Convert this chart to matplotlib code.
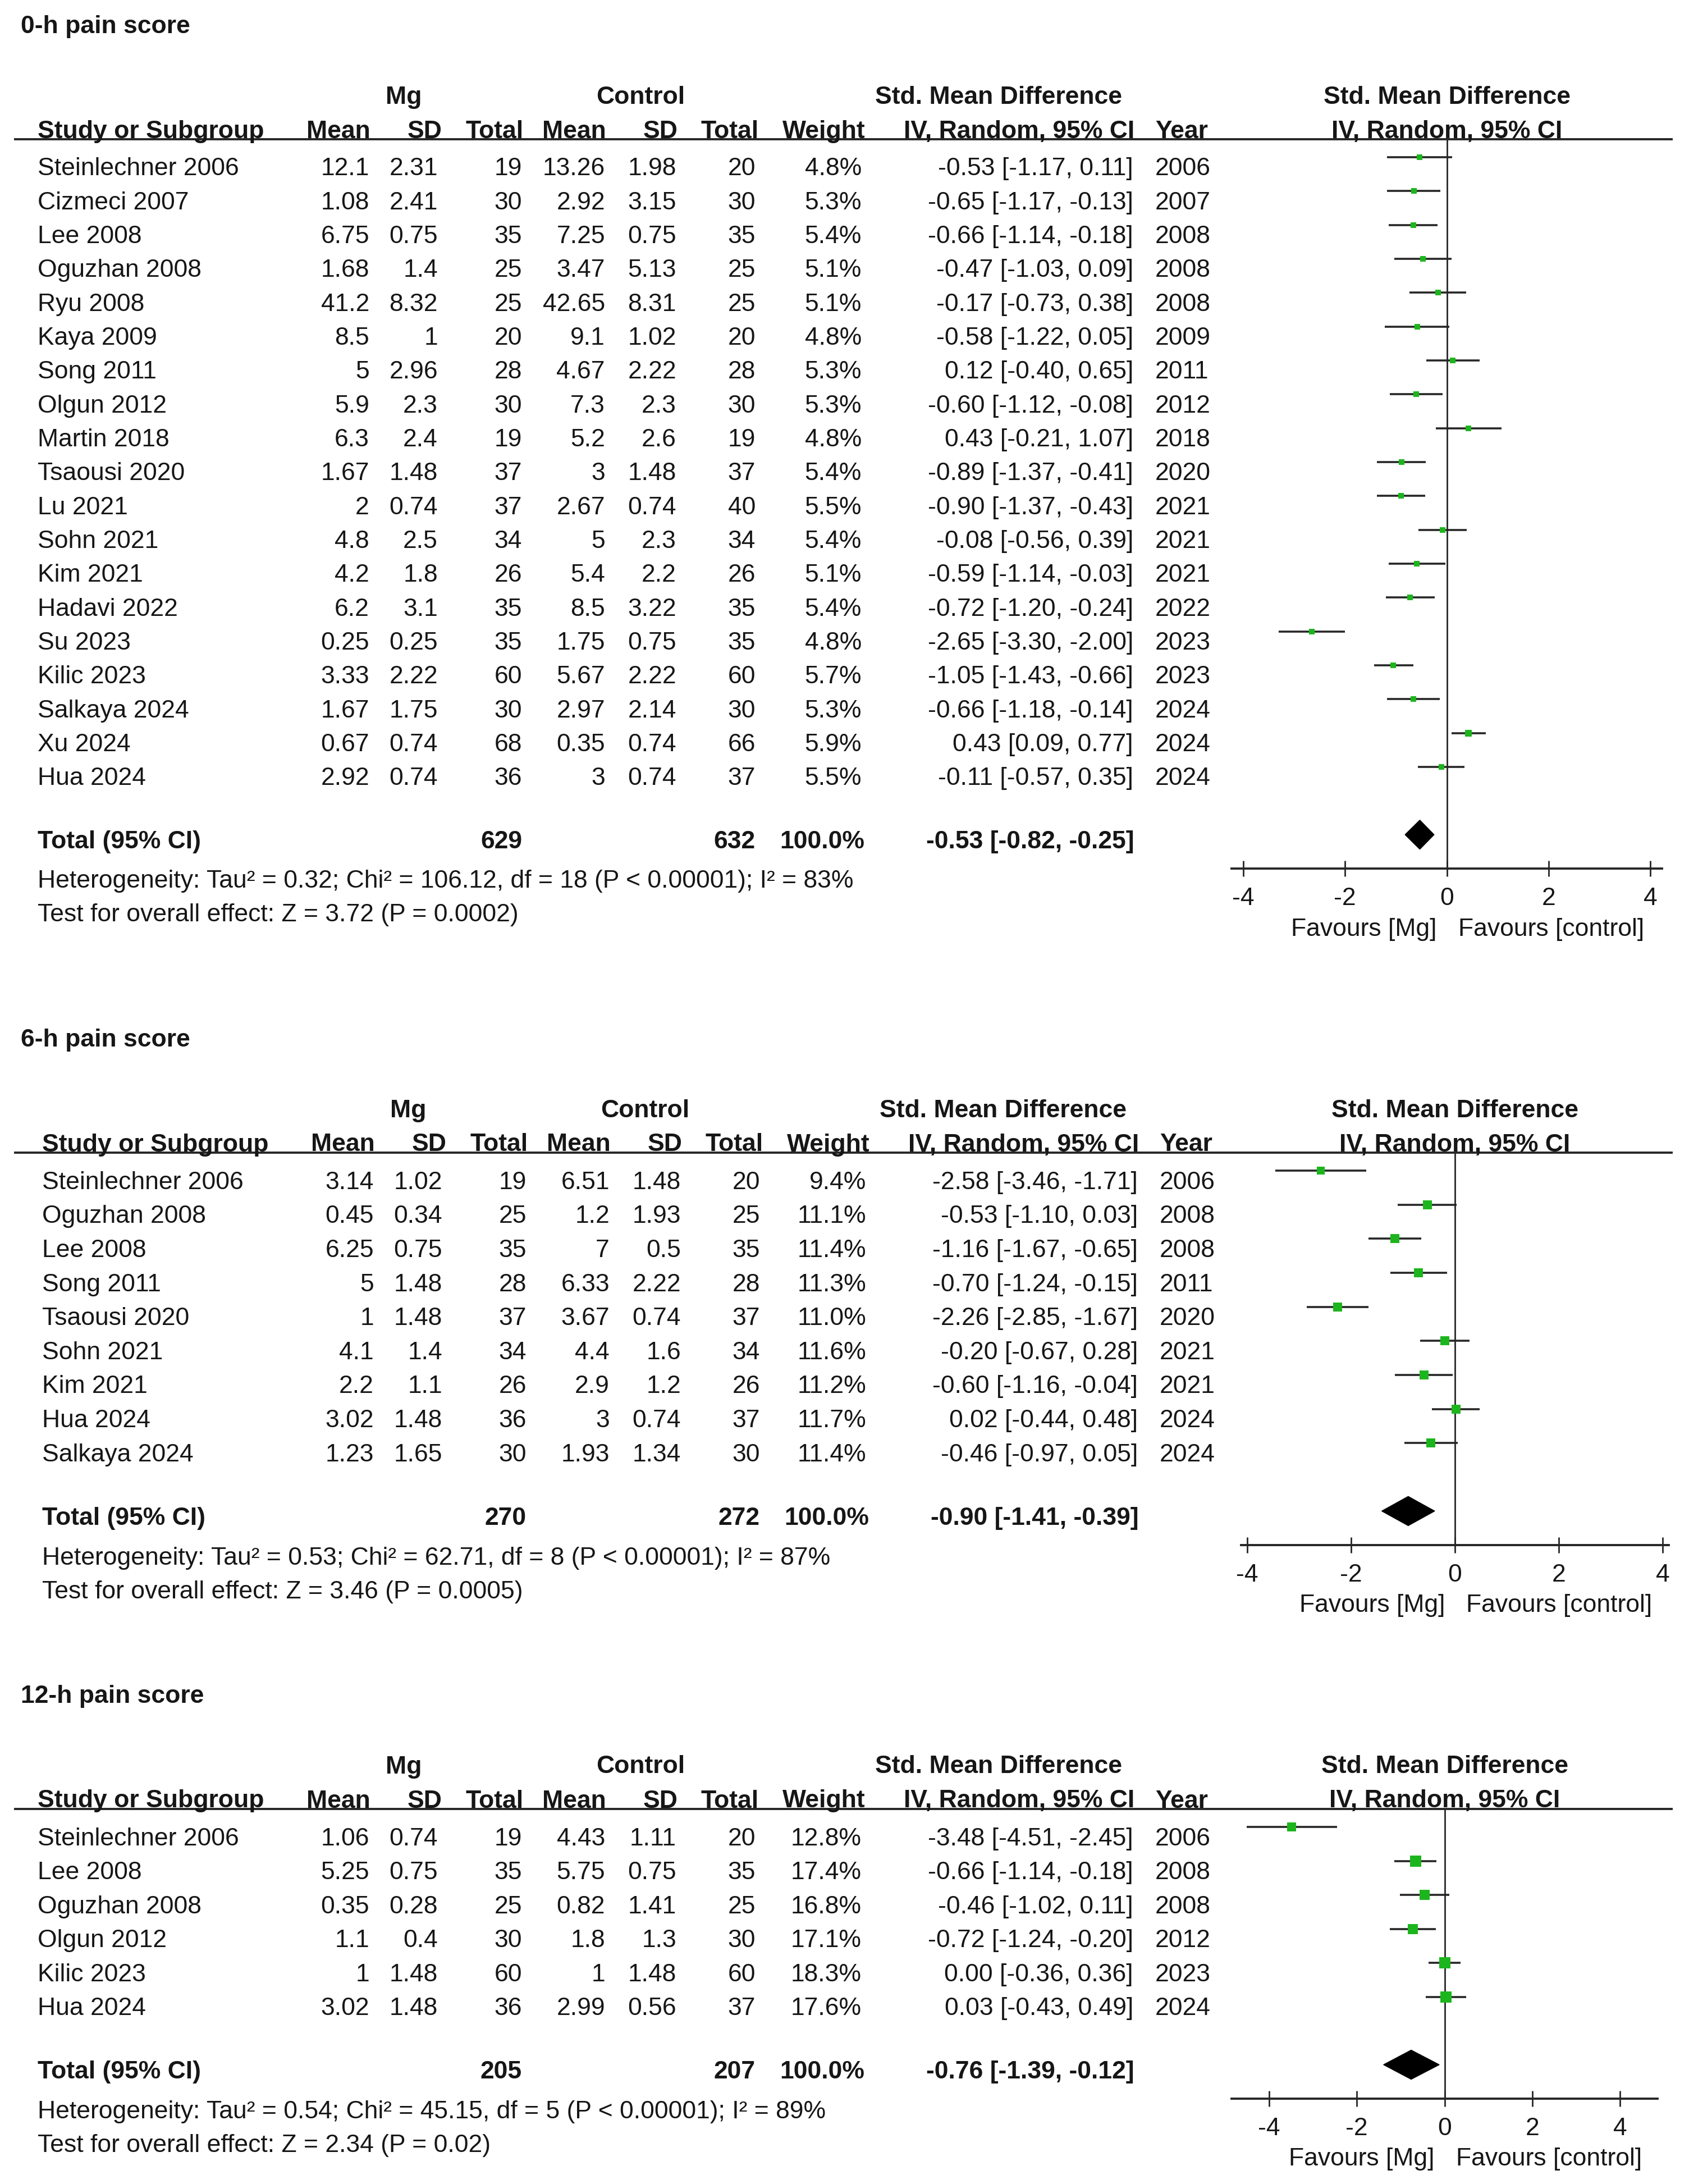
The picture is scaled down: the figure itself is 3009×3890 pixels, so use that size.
import numpy as np
import matplotlib
matplotlib.use("Agg")
import matplotlib.pyplot as plt
import matplotlib.transforms as mtransforms
from matplotlib.patches import Polygon

plt.rcParams['font.family'] = ['Liberation Sans', 'DejaVu Sans']
plt.rcParams['axes.unicode_minus'] = False

# ---------------- data: 0-h pain score ----------------
studies1 = ["Steinlechner 2006", "Cizmeci 2007", "Lee 2008", "Oguzhan 2008", "Ryu 2008",
            "Kaya 2009", "Song 2011", "Olgun 2012", "Martin 2018", "Tsaousi 2020",
            "Lu 2021", "Sohn 2021", "Kim 2021", "Hadavi 2022", "Su 2023", "Kilic 2023",
            "Salkaya 2024", "Xu 2024", "Hua 2024"]
mg_mean1 = ["12.1", "1.08", "6.75", "1.68", "41.2", "8.5", "5", "5.9", "6.3", "1.67", "2",
            "4.8", "4.2", "6.2", "0.25", "3.33", "1.67", "0.67", "2.92"]
mg_sd1 = ["2.31", "2.41", "0.75", "1.4", "8.32", "1", "2.96", "2.3", "2.4", "1.48", "0.74",
          "2.5", "1.8", "3.1", "0.25", "2.22", "1.75", "0.74", "0.74"]
mg_n1 = [19, 30, 35, 25, 25, 20, 28, 30, 19, 37, 37, 34, 26, 35, 35, 60, 30, 68, 36]
ct_mean1 = ["13.26", "2.92", "7.25", "3.47", "42.65", "9.1", "4.67", "7.3", "5.2", "3", "2.67",
            "5", "5.4", "8.5", "1.75", "5.67", "2.97", "0.35", "3"]
ct_sd1 = ["1.98", "3.15", "0.75", "5.13", "8.31", "1.02", "2.22", "2.3", "2.6", "1.48", "0.74",
          "2.3", "2.2", "3.22", "0.75", "2.22", "2.14", "0.74", "0.74"]
ct_n1 = [20, 30, 35, 25, 25, 20, 28, 30, 19, 37, 40, 34, 26, 35, 35, 60, 30, 66, 37]
weight1 = [4.8, 5.3, 5.4, 5.1, 5.1, 4.8, 5.3, 5.3, 4.8, 5.4, 5.5, 5.4, 5.1, 5.4, 4.8, 5.7, 5.3, 5.9, 5.5]
smd1 = [-0.53, -0.65, -0.66, -0.47, -0.17, -0.58, 0.12, -0.60, 0.43, -0.89, -0.90, -0.08,
        -0.59, -0.72, -2.65, -1.05, -0.66, 0.43, -0.11]
lo1 = [-1.17, -1.17, -1.14, -1.03, -0.73, -1.22, -0.40, -1.12, -0.21, -1.37, -1.37, -0.56,
       -1.14, -1.20, -3.30, -1.43, -1.18, 0.09, -0.57]
hi1 = [0.11, -0.13, -0.18, 0.09, 0.38, 0.05, 0.65, -0.08, 1.07, -0.41, -0.43, 0.39,
       -0.03, -0.24, -2.00, -0.66, -0.14, 0.77, 0.35]
year1 = [2006, 2007, 2008, 2008, 2008, 2009, 2011, 2012, 2018, 2020, 2021, 2021, 2021,
         2022, 2023, 2023, 2024, 2024, 2024]
total1 = [629, 632]
pooled1 = [-0.53, -0.82, -0.25]
het1 = "Heterogeneity: Tau² = 0.32; Chi² = 106.12, df = 18 (P < 0.00001); I² = 83%"
test1 = "Test for overall effect: Z = 3.72 (P = 0.0002)"

# ---------------- data: 6-h pain score ----------------
studies2 = ["Steinlechner 2006", "Oguzhan 2008", "Lee 2008", "Song 2011", "Tsaousi 2020",
            "Sohn 2021", "Kim 2021", "Hua 2024", "Salkaya 2024"]
mg_mean2 = ["3.14", "0.45", "6.25", "5", "1", "4.1", "2.2", "3.02", "1.23"]
mg_sd2 = ["1.02", "0.34", "0.75", "1.48", "1.48", "1.4", "1.1", "1.48", "1.65"]
mg_n2 = [19, 25, 35, 28, 37, 34, 26, 36, 30]
ct_mean2 = ["6.51", "1.2", "7", "6.33", "3.67", "4.4", "2.9", "3", "1.93"]
ct_sd2 = ["1.48", "1.93", "0.5", "2.22", "0.74", "1.6", "1.2", "0.74", "1.34"]
ct_n2 = [20, 25, 35, 28, 37, 34, 26, 37, 30]
weight2 = [9.4, 11.1, 11.4, 11.3, 11.0, 11.6, 11.2, 11.7, 11.4]
smd2 = [-2.58, -0.53, -1.16, -0.70, -2.26, -0.20, -0.60, 0.02, -0.46]
lo2 = [-3.46, -1.10, -1.67, -1.24, -2.85, -0.67, -1.16, -0.44, -0.97]
hi2 = [-1.71, 0.03, -0.65, -0.15, -1.67, 0.28, -0.04, 0.48, 0.05]
year2 = [2006, 2008, 2008, 2011, 2020, 2021, 2021, 2024, 2024]
total2 = [270, 272]
pooled2 = [-0.90, -1.41, -0.39]
het2 = "Heterogeneity: Tau² = 0.53; Chi² = 62.71, df = 8 (P < 0.00001); I² = 87%"
test2 = "Test for overall effect: Z = 3.46 (P = 0.0005)"

# ---------------- data: 12-h pain score ----------------
studies3 = ["Steinlechner 2006", "Lee 2008", "Oguzhan 2008", "Olgun 2012", "Kilic 2023", "Hua 2024"]
mg_mean3 = ["1.06", "5.25", "0.35", "1.1", "1", "3.02"]
mg_sd3 = ["0.74", "0.75", "0.28", "0.4", "1.48", "1.48"]
mg_n3 = [19, 35, 25, 30, 60, 36]
ct_mean3 = ["4.43", "5.75", "0.82", "1.8", "1", "2.99"]
ct_sd3 = ["1.11", "0.75", "1.41", "1.3", "1.48", "0.56"]
ct_n3 = [20, 35, 25, 30, 60, 37]
weight3 = [12.8, 17.4, 16.8, 17.1, 18.3, 17.6]
smd3 = [-3.48, -0.66, -0.46, -0.72, 0.00, 0.03]
lo3 = [-4.51, -1.14, -1.02, -1.24, -0.36, -0.43]
hi3 = [-2.45, -0.18, 0.11, -0.20, 0.36, 0.49]
year3 = [2006, 2008, 2008, 2012, 2023, 2024]
total3 = [205, 207]
pooled3 = [-0.76, -1.39, -0.12]
het3 = "Heterogeneity: Tau² = 0.54; Chi² = 45.15, df = 5 (P < 0.00001); I² = 89%"
test3 = "Test for overall effect: Z = 2.34 (P = 0.02)"

titles = ["0-h pain score", "6-h pain score", "12-h pain score"]
tick_vals = [-4, -2, 0, 2, 4]

panels = [
    dict(title=titles[0], studies=studies1, mm=mg_mean1, ms=mg_sd1, mn=mg_n1, cm=ct_mean1,
         cs=ct_sd1, cn=ct_n1, w=weight1, smd=smd1, lo=lo1, hi=hi1, year=year1, tot=total1,
         pooled=pooled1, het=het1, test=test1),
    dict(title=titles[1], studies=studies2, mm=mg_mean2, ms=mg_sd2, mn=mg_n2, cm=ct_mean2,
         cs=ct_sd2, cn=ct_n2, w=weight2, smd=smd2, lo=lo2, hi=hi2, year=year2, tot=total2,
         pooled=pooled2, het=het2, test=test2),
    dict(title=titles[2], studies=studies3, mm=mg_mean3, ms=mg_sd3, mn=mg_n3, cm=ct_mean3,
         cs=ct_sd3, cn=ct_n3, w=weight3, smd=smd3, lo=lo3, hi=hi3, year=year3, tot=total3,
         pooled=pooled3, het=het3, test=test3),
]

# ---------------- layout (pixels) ----------------
W, H, DPI = 3009, 3890, 100
layout = [
    dict(header=248, axis=1547, x0=2194, x1=2961, xl=4.23, shift=0),
    dict(header=2053, axis=2752, x0=2211, x1=2973, xl=4.12, shift=8),
    dict(header=3222, axis=3738, x0=2194, x1=2953, xl=4.85, shift=0),
]
FS = 32
TXT = '#161616'
LINE = '#262626'
GREEN = '#1db51d'

fig = plt.figure(figsize=(W / DPI, H / DPI), dpi=DPI)
fig.patch.set_facecolor('white')
bg = fig.add_axes([0, 0, 1, 1])
bg.set_xlim(0, W)
bg.set_ylim(H, 0)
bg.axis('off')


def fmt_ci(v):
    return f"{v[0]:.2f} [{v[1]:.2f}, {v[2]:.2f}]"


for P, L in zip(panels, layout):
    n = len(P['studies'])
    hdr, axp, s = L['header'], L['axis'], L['shift']
    ax = fig.add_axes([L['x0'] / W, 1 - axp / H, (L['x1'] - L['x0']) / W, (axp - hdr) / H])
    ax.set_xlim(-L['xl'], L['xl'])
    ax.set_ylim(n + 2, -0.53)
    ax.patch.set_alpha(0)
    for sp in ['top', 'left', 'right']:
        ax.spines[sp].set_visible(False)
    ax.spines['bottom'].set_linewidth(2.8)
    ax.spines['bottom'].set_color(LINE)
    ax.set_yticks([])
    ax.set_xticks(tick_vals)
    ax.set_xticklabels([str(t) for t in tick_vals])
    ax.tick_params(axis='x', direction='inout', length=20, width=2, pad=13.5,
                   labelsize=FS, color=LINE, labelcolor=TXT)
    ax.axvline(0, color=LINE, lw=2.0, zorder=1)

    for i in range(n):
        ax.plot([P['lo'][i], P['hi'][i]], [i, i], color=LINE, lw=2.6,
                solid_capstyle='butt', zorder=2)
        ax.plot([P['smd'][i]], [i], marker='s', ms=3.3 * np.sqrt(P['w'][i]),
                color=GREEN, mec=GREEN, mew=0, lw=0, zorder=3)
    est, plo, phi = P['pooled']
    yt = n + 1
    ax.add_patch(Polygon([(plo, yt), (est, yt - 0.43), (phi, yt), (est, yt + 0.43)],
                         closed=True, fc='black', ec='black', lw=1, zorder=3))

    # favours labels
    tb = mtransforms.blended_transform_factory(ax.transData, ax.transAxes)
    ax.text(0, 0, "Favours [Mg]", fontsize=FS, color=TXT, ha='right', va='center',
            transform=tb + mtransforms.ScaledTranslation(-0.18, -1.08, fig.dpi_scale_trans))
    ax.text(0, 0, "Favours [control]", fontsize=FS, color=TXT, ha='left', va='center',
            transform=tb + mtransforms.ScaledTranslation(0.20, -1.08, fig.dpi_scale_trans))

    # title and headers
    bg.text(37, hdr - 201, P['title'], fontsize=FS, fontweight='bold', color=TXT,
            ha='left', va='center')
    bg.plot([25, 2980], [hdr, hdr], color=LINE, lw=2.8, solid_capstyle='butt')
    y1, y2 = hdr - 75, hdr - 14
    bold = dict(fontsize=FS, fontweight='bold', color=TXT, va='center')
    bg.text(719 + s, y1, "Mg", ha='center', **bold)
    bg.text(1141 + s, y1, "Control", ha='center', **bold)
    bg.text(1779 + s, y1, "Std. Mean Difference", ha='center', **bold)
    bg.text(67 + s, y2, "Study or Subgroup", ha='left', **bold)
    for xr, lab in [(660, "Mean"), (788, "SD"), (933, "Total"), (1080, "Mean"),
                    (1208, "SD"), (1352, "Total"), (1542, "Weight"),
                    (2021, "IV, Random, 95% CI")]:
        bg.text(xr + s, y2, lab, ha='right', **bold)
    bg.text(2058 + s, y2, "Year", ha='left', **bold)
    hb = mtransforms.blended_transform_factory(ax.transData, bg.transData)
    bg.text(0, y1, "Std. Mean Difference", ha='center', transform=hb, **bold)
    bg.text(0, y2, "IV, Random, 95% CI", ha='center', transform=hb, **bold)

    # table rows
    rt = mtransforms.blended_transform_factory(bg.transData, ax.transData) + \
        mtransforms.ScaledTranslation(0, -0.21, fig.dpi_scale_trans)
    tt = mtransforms.blended_transform_factory(bg.transData, ax.transData) + \
        mtransforms.ScaledTranslation(0, -0.13, fig.dpi_scale_trans)
    reg = dict(fontsize=FS, color=TXT, va='center', transform=rt)
    for i in range(n):
        bg.text(67 + s, i, P['studies'][i], ha='left', **reg)
        cols = [(658, P['mm'][i]), (780, P['ms'][i]), (930, str(P['mn'][i])),
                (1078, P['cm'][i]), (1205, P['cs'][i]), (1346, str(P['cn'][i])),
                (1535, f"{P['w'][i]:.1f}%"),
                (2019, fmt_ci([P['smd'][i], P['lo'][i], P['hi'][i]]))]
        for xr, lab in cols:
            bg.text(xr + s, i, lab, ha='right', **reg)
        bg.text(2058 + s, i, str(P['year'][i]), ha='left', **reg)

    rb = dict(fontsize=FS, fontweight='bold', color=TXT, va='center', transform=tt)
    bg.text(67 + s, yt, "Total (95% CI)", ha='left', **rb)
    bg.text(930 + s, yt, str(P['tot'][0]), ha='right', **rb)
    bg.text(1346 + s, yt, str(P['tot'][1]), ha='right', **rb)
    bg.text(1540 + s, yt, "100.0%", ha='right', **rb)
    bg.text(2021 + s, yt, fmt_ci(P['pooled']), ha='right', **rb)

    bg.text(67 + s, axp + 23, P['het'], fontsize=FS, color=TXT, ha='left', va='center')
    bg.text(67 + s, axp + 83, P['test'], fontsize=FS, color=TXT, ha='left', va='center')

fig.savefig("out.png", dpi=DPI, facecolor='white')
